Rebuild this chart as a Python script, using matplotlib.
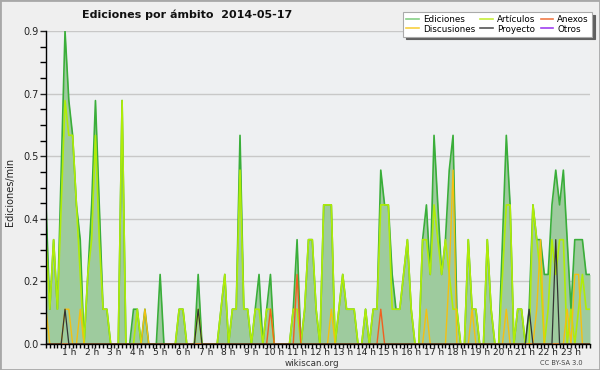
import numpy as np
import matplotlib
matplotlib.use("Agg")
import matplotlib.pyplot as plt
from matplotlib.lines import Line2D
from matplotlib.patches import Rectangle

# ---- data (edits per minute, 10-minute bins, 144 bins over the day) ----
ediciones = [
    0.4, 0.1, 0.3, 0.1, 0.5, 0.9, 0.7, 0.6, 0.4, 0.3,
    0.0, 0.2, 0.4, 0.7, 0.4, 0.1, 0.1, 0.0, 0.0, 0.0,
    0.7, 0.0, 0.0, 0.1, 0.1, 0.0, 0.1, 0.0, 0.0, 0.0,
    0.2, 0.0, 0.0, 0.0, 0.0, 0.1, 0.1, 0.0, 0.0, 0.0,
    0.2, 0.0, 0.0, 0.0, 0.0, 0.0, 0.1, 0.2, 0.0, 0.1,
    0.1, 0.6, 0.1, 0.1, 0.0, 0.1, 0.2, 0.0, 0.1, 0.2,
    0.0, 0.0, 0.0, 0.0, 0.0, 0.1, 0.3, 0.0, 0.1, 0.3,
    0.3, 0.1, 0.0, 0.4, 0.4, 0.4, 0.0, 0.1, 0.2, 0.1,
    0.1, 0.1, 0.0, 0.0, 0.1, 0.0, 0.1, 0.1, 0.5, 0.4,
    0.4, 0.2, 0.1, 0.1, 0.2, 0.3, 0.1, 0.0, 0.0, 0.3,
    0.4, 0.2, 0.6, 0.4, 0.2, 0.3, 0.5, 0.6, 0.1, 0.0,
    0.0, 0.3, 0.1, 0.1, 0.0, 0.0, 0.3, 0.1, 0.0, 0.0,
    0.3, 0.6, 0.4, 0.0, 0.1, 0.1, 0.0, 0.1, 0.4, 0.3,
    0.3, 0.2, 0.2, 0.4, 0.5, 0.4, 0.5, 0.3, 0.1, 0.3,
    0.3, 0.3, 0.2, 0.2,
]
articulos = [
    0.3, 0.1, 0.3, 0.1, 0.4, 0.7, 0.6, 0.6, 0.4, 0.2,
    0.0, 0.2, 0.3, 0.6, 0.3, 0.1, 0.1, 0.0, 0.0, 0.0,
    0.7, 0.0, 0.0, 0.0, 0.1, 0.0, 0.0, 0.0, 0.0, 0.0,
    0.0, 0.0, 0.0, 0.0, 0.0, 0.1, 0.1, 0.0, 0.0, 0.0,
    0.1, 0.0, 0.0, 0.0, 0.0, 0.0, 0.1, 0.2, 0.0, 0.1,
    0.1, 0.5, 0.1, 0.1, 0.0, 0.1, 0.1, 0.0, 0.1, 0.1,
    0.0, 0.0, 0.0, 0.0, 0.0, 0.1, 0.1, 0.0, 0.1, 0.3,
    0.3, 0.1, 0.0, 0.4, 0.4, 0.4, 0.0, 0.1, 0.2, 0.1,
    0.1, 0.1, 0.0, 0.0, 0.1, 0.0, 0.1, 0.1, 0.4, 0.4,
    0.4, 0.1, 0.1, 0.1, 0.2, 0.3, 0.1, 0.0, 0.0, 0.3,
    0.3, 0.2, 0.4, 0.3, 0.2, 0.3, 0.2, 0.1, 0.1, 0.0,
    0.0, 0.3, 0.1, 0.1, 0.0, 0.0, 0.3, 0.1, 0.0, 0.0,
    0.2, 0.4, 0.4, 0.0, 0.1, 0.1, 0.0, 0.0, 0.4, 0.3,
    0.2, 0.0, 0.1, 0.3, 0.2, 0.3, 0.3, 0.0, 0.1, 0.0,
    0.1, 0.2, 0.1, 0.1,
]
discusiones = [
    0.1, 0.0, 0.0, 0.0, 0.0, 0.1, 0.1, 0.0, 0.0, 0.1,
    0.0, 0.0, 0.0, 0.0, 0.0, 0.0, 0.0, 0.0, 0.0, 0.0,
    0.0, 0.0, 0.0, 0.0, 0.0, 0.0, 0.1, 0.0, 0.0, 0.0,
    0.0, 0.0, 0.0, 0.0, 0.0, 0.0, 0.0, 0.0, 0.0, 0.0,
    0.0, 0.0, 0.0, 0.0, 0.0, 0.0, 0.0, 0.0, 0.0, 0.0,
    0.0, 0.0, 0.0, 0.0, 0.0, 0.0, 0.0, 0.0, 0.0, 0.0,
    0.0, 0.0, 0.0, 0.0, 0.0, 0.0, 0.0, 0.0, 0.0, 0.0,
    0.0, 0.0, 0.0, 0.0, 0.0, 0.1, 0.0, 0.0, 0.0, 0.0,
    0.0, 0.0, 0.0, 0.0, 0.0, 0.0, 0.0, 0.0, 0.0, 0.0,
    0.0, 0.0, 0.0, 0.0, 0.0, 0.0, 0.0, 0.0, 0.0, 0.0,
    0.1, 0.0, 0.0, 0.0, 0.0, 0.0, 0.2, 0.5, 0.0, 0.0,
    0.0, 0.0, 0.1, 0.0, 0.0, 0.0, 0.0, 0.0, 0.0, 0.0,
    0.0, 0.1, 0.0, 0.0, 0.0, 0.0, 0.0, 0.0, 0.0, 0.1,
    0.3, 0.0, 0.0, 0.0, 0.0, 0.0, 0.0, 0.1, 0.0, 0.2,
    0.2, 0.0, 0.0, 0.0,
]
anexos = [0.0] * 59 + [0.1] + [0.0] * 6 + [0.2] + [0.0] * 21 + [0.1] + [0.0] * 55
proyecto = ([0.0] * 5 + [0.1] + [0.0] * 34 + [0.1] + [0.0] * 86 + [0.1]
            + [0.0] * 6 + [0.3] + [0.0] * 9)
otros = [0.0] * 144

hour_labels = ["%d h" % h for h in range(1, 24)]
series_names = ["Ediciones", "Discusiones", "Artículos", "Proyecto", "Anexos", "Otros"]
legend_colors = ["#86cf86", "#f8d040", "#c6ee3a", "#555555", "#f07a48", "#a040f0"]
y_ticks = [0.0, 0.18, 0.36, 0.54, 0.72, 0.9]
y_labels = ["0.0", "0.2", "0.4", "0.5", "0.7", "0.9"]

plt.rcParams['font.family'] = ['DejaVu Sans']

W, H = 600, 370
fig = plt.figure(figsize=(W / 100, H / 100), dpi=100, facecolor="#efefef")
ax = fig.add_axes([46 / W, 1 - 344 / H, (590 - 46) / W, (344 - 31) / H])
ax.set_facecolor("#eef0f2")

x = np.arange(len(ediciones))
ax.fill_between(x, ediciones, 0, color="#9ecb9e", lw=0, zorder=1)
ax.plot(x, ediciones, color="#3aae3a", lw=1.2, zorder=3)
ax.plot(x, articulos, color="#b0ec08", lw=1.2, zorder=4)
ax.plot(x, discusiones, color="#f5c010", lw=1.0, zorder=5)
ax.plot(x, anexos, color="#f06020", lw=1.0, zorder=5)
ax.plot(x, proyecto, color="#333333", lw=0.9, zorder=5)
ax.plot(x, otros, color="#9933ee", lw=0.9, zorder=0.5)

ax.set_xlim(0, len(ediciones) - 1)
ax.set_ylim(0, 0.9)

ax.set_yticks(y_ticks)
ax.set_yticklabels(y_labels)
ax.set_yticks(np.arange(0, 0.9001, 0.045), minor=True)
ax.set_xticks(np.arange(6, 139, 6))
ax.set_xticklabels(hour_labels)
ax.set_xticks(x, minor=True)

ax.grid(axis="y", which="major", color="#c8c8c8", lw=1.0, zorder=0.8)
ax.set_axisbelow(True)
for s in ["top", "right"]:
    ax.spines[s].set_visible(False)
for s in ["left", "bottom"]:
    ax.spines[s].set_color("black")
    ax.spines[s].set_linewidth(1.0)
    ax.spines[s].set_zorder(6)

ax.tick_params(axis="y", which="major", length=4, width=1, labelsize=7, colors="#222222", pad=1)
ax.tick_params(axis="y", which="minor", length=4, width=1, color="black")
ax.tick_params(axis="x", which="major", length=3, width=1, labelsize=6.5, colors="#222222", pad=0)
ax.tick_params(axis="x", which="minor", length=3, width=1, color="black")

fig.text(187 / W, 1 - 15 / H, "Ediciones por ámbito  2014-05-17", ha="center", va="center",
         fontsize=8, fontweight="bold", color="#111111")
fig.text(10 / W, 1 - 192 / H, "Ediciones/min", rotation=90, ha="center", va="center",
         fontsize=7, color="#222222")
fig.text(312 / W, 1 - 363 / H, "wikiscan.org", ha="center", va="center", fontsize=6.3, color="#333333")
fig.text(561 / W, 1 - 363 / H, "CC BY-SA 3.0", ha="center", va="center", fontsize=4.8, color="#444444")

handles = [Line2D([], [], color=c, lw=1.2) for c in legend_colors]
leg = fig.legend(handles, series_names, ncol=3, loc="upper right",
                 bbox_to_anchor=(592 / W, 1 - 12 / H), bbox_transform=fig.transFigure,
                 fontsize=6.3, frameon=True, fancybox=False,
                 shadow={"color": "#606060", "alpha": 1.0},
                 handlelength=1.4, handletextpad=0.5, columnspacing=0.6,
                 labelspacing=0.05, borderpad=0.35, borderaxespad=0)
leg.get_frame().set_edgecolor("#aaaaaa")
leg.get_frame().set_linewidth(0.8)
leg.set_zorder(10)

fig.patches.append(Rectangle((0, 0), 1, 1, transform=fig.transFigure, fill=False,
                             edgecolor="#a8a8a8", lw=2))

fig.savefig("out.png", dpi=100, facecolor=fig.get_facecolor())
